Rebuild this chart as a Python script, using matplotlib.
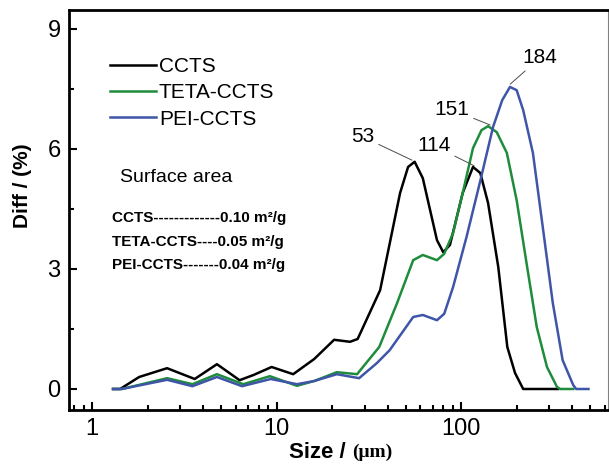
import numpy as np
import matplotlib.pyplot as plt
from matplotlib.ticker import LogLocator, MultipleLocator, NullFormatter

plt.rcParams['font.family'] = ['Liberation Sans', 'DejaVu Sans']

# particle size distributions (size in um, volume %)
ccts_x = [1.30, 1.42, 1.8, 2.55, 3.6, 4.75, 6.3, 7.5, 9.4, 12.3, 16, 20.5, 25, 27.5,
          36.4, 46.7, 51.6, 56, 62, 74, 80, 87, 102, 116, 127, 140, 159, 178, 196, 217, 335]
ccts_y = [0, 0, 0.3, 0.52, 0.25, 0.62, 0.22, 0.35, 0.55, 0.37, 0.75, 1.23, 1.18, 1.25,
          2.47, 4.9, 5.55, 5.68, 5.27, 3.72, 3.42, 3.6, 4.9, 5.55, 5.4, 4.65, 3.05, 1.05, 0.4, 0, 0]

teta_x = [1.30, 1.45, 2.55, 3.5, 4.75, 6.6, 9.2, 12.9, 16, 21.2, 27.3, 36, 45, 55, 62,
          74, 81, 90.5, 102, 116, 129, 140, 156, 177, 200, 228, 257, 292, 331, 345, 405]
teta_y = [0, 0, 0.27, 0.12, 0.37, 0.12, 0.32, 0.08, 0.2, 0.42, 0.37, 1.05, 2.15, 3.22, 3.35,
          3.22, 3.38, 3.9, 4.9, 6.02, 6.47, 6.57, 6.42, 5.9, 4.72, 3.05, 1.55, 0.55, 0.05, 0, 0]

pei_x = [1.30, 1.45, 2.55, 3.5, 4.75, 6.5, 9.3, 12.9, 16, 21.2, 28, 35, 41, 55, 62,
         74, 81, 90.5, 107, 127, 149, 167, 184, 200, 217, 245, 277, 314, 355, 405, 420, 490]
pei_y = [0, 0, 0.23, 0.07, 0.3, 0.07, 0.25, 0.12, 0.2, 0.37, 0.27, 0.65, 0.97, 1.8, 1.85,
         1.72, 1.88, 2.55, 3.8, 5.2, 6.55, 7.22, 7.55, 7.47, 6.97, 5.9, 4.05, 2.15, 0.72, 0.1, 0, 0]

labels = ['CCTS', 'TETA-CCTS', 'PEI-CCTS']
colors = ['black', '#1f8c3b', '#3f55a8']

# peak labels: text, peak position, text position
peak_text = ['53', '114', '151', '184']
peak_xy = [(54.2, 5.72), (117.6, 5.58), (143.6, 6.6), (184.5, 7.62)]
text_xy = [(29.4, 6.3), (71.4, 6.08), (89.4, 6.98), (268, 8.28)]

area_lines = ['CCTS-------------0.10 m\u00b2/g',
              'TETA-CCTS----0.05 m\u00b2/g',
              'PEI-CCTS-------0.04 m\u00b2/g']

fig = plt.figure(figsize=(6.09, 4.69), dpi=100)
ax = fig.add_axes([0.1133, 0.1258, 0.885, 0.853])

for xs, ys, lab, c in zip([ccts_x, teta_x, pei_x], [ccts_y, teta_y, pei_y], labels, colors):
    ax.plot(xs, ys, color=c, lw=1.8, label=lab)

ax.set_xscale('log')
ax.set_xlim(0.75, 625)
ax.set_ylim(-0.525, 9.475)
ax.yaxis.set_major_locator(MultipleLocator(3))
ax.yaxis.set_minor_locator(MultipleLocator(1.5))
ax.xaxis.set_minor_locator(LogLocator(base=10, subs=np.arange(2, 10)))
ax.xaxis.set_minor_formatter(NullFormatter())
ax.set_xticks([1, 10, 100])
ax.set_xticklabels(['1', '10', '100'])

ax.tick_params(which='both', direction='in', top=False, right=False, width=1.5, labelsize=17)
ax.tick_params(which='major', length=6, pad=6)
ax.tick_params(which='minor', length=3.5)
for s in ['left', 'bottom', 'top']:
    ax.spines[s].set_linewidth(2)
ax.spines['right'].set_linewidth(0.8)
ax.spines['right'].set_color('0.5')

ax.set_ylabel('Diff / (%)', fontsize=15, fontweight='bold')
ax.yaxis.set_label_coords(-0.068, 0.56)
fig.text(0.578, 0.036, 'Size / ', ha='right', va='center', fontsize=16, fontweight='bold')
fig.text(0.578, 0.036, '(\u03bcm)', ha='left', va='center', fontsize=14, fontweight='bold',
         family='Liberation Serif')

ax.legend(loc='upper left', bbox_to_anchor=(0.076, 0.882), frameon=False, fontsize=15,
          handlelength=2.2, handletextpad=0.15, labelspacing=0.35, borderpad=0, borderaxespad=0)

for t, p, q in zip(peak_text, peak_xy, text_xy):
    ax.annotate(t, xy=p, xytext=q, ha='center', va='center', fontsize=15,
                arrowprops=dict(arrowstyle='-', color='0.3', lw=0.7, shrinkA=1, shrinkB=0))

fig.text(120 / 609, 1 - 177 / 469, 'Surface area', fontsize=14, va='center')
for i, line in enumerate(area_lines):
    fig.text(112 / 609, 1 - (218 + 23.5 * i) / 469, line, fontsize=11, fontweight='bold', va='center')

plt.savefig('out.png', dpi=100)
